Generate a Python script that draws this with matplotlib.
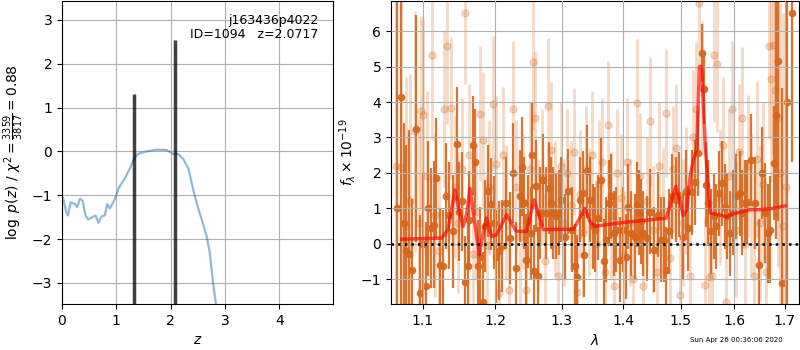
import matplotlib
matplotlib.use("Agg")
import matplotlib.pyplot as plt
from matplotlib.ticker import NullLocator, FixedLocator, FixedFormatter

# ---------------- left panel: log p(z) ----------------
z_grid = [0.0, 0.02, 0.08, 0.11, 0.16, 0.24, 0.28, 0.33, 0.38, 0.43, 0.48, 0.56,
          0.62, 0.67, 0.73, 0.79, 0.83, 0.88, 0.94, 1.00, 1.05, 1.16, 1.26, 1.31,
          1.39, 1.44, 1.56, 1.75, 1.93, 2.05, 2.14, 2.23, 2.33, 2.42, 2.51, 2.57,
          2.66, 2.72, 2.78, 2.83]
logpz = [-1.05, -1.06, -1.39, -1.46, -1.16, -1.20, -1.27, -1.08, -1.12, -1.46, -1.55, -1.50,
         -1.46, -1.63, -1.48, -1.46, -1.20, -1.30, -1.17, -1.00, -0.82, -0.61, -0.36, -0.21,
         -0.06, -0.04, 0.00, 0.04, 0.03, -0.06, -0.06, -0.17, -0.40, -0.90, -1.31, -1.54,
         -1.92, -2.30, -2.98, -3.45]
z_peaks = [1.33, 2.0717]
peak_heights = [1.30, 2.53]

# ---------------- right panel: spectrum ----------------
lam_dark = [1.0670, 1.0717, 1.0752, 1.0780, 1.0824, 1.0860, 1.0910, 1.0964, 1.1000, 1.1043,
            1.1075, 1.1109, 1.1154, 1.1176, 1.1230, 1.1275, 1.1312, 1.1360, 1.1403, 1.1458,
            1.1494, 1.1535, 1.1574, 1.1610, 1.1633, 1.1680, 1.1717, 1.1759, 1.1787, 1.1821,
            1.1855, 1.1892, 1.1940, 1.1985, 1.2021, 1.2059, 1.2108, 1.2166, 1.2215, 1.2255,
            1.2304, 1.2363, 1.2398, 1.2428, 1.2462, 1.2487, 1.2523, 1.2548, 1.2578, 1.2613,
            1.2638, 1.2663, 1.2714, 1.2765, 1.2805, 1.2842, 1.2867, 1.2919, 1.2960, 1.2997,
            1.3049, 1.3101, 1.3155, 1.3207, 1.3244, 1.3287, 1.3330, 1.3356, 1.3410, 1.3447,
            1.3501, 1.3528, 1.3582, 1.3637, 1.3675, 1.3708, 1.3763, 1.3802, 1.3840, 1.3885,
            1.3941, 1.3997, 1.4042, 1.4081, 1.4138, 1.4194, 1.4230, 1.4268, 1.4309, 1.4337,
            1.4406, 1.4464, 1.4522, 1.4597, 1.4657, 1.4697, 1.4745, 1.4792, 1.4852, 1.4912,
            1.4972, 1.5045, 1.5094, 1.5136, 1.5198, 1.5250, 1.5317, 1.5396, 1.5420, 1.5460,
            1.5500, 1.5546, 1.5607, 1.5658, 1.5707, 1.5753, 1.5816, 1.5860, 1.5910, 1.5974,
            1.6039, 1.6103, 1.6155, 1.6199, 1.6244, 1.6330, 1.6395, 1.6481, 1.6547, 1.6593,
            1.6659, 1.6693, 1.6774, 1.6815, 1.6869, 1.6931, 1.7034, 1.7138]
flux_dark = [1.00, 4.13, 0.60, -0.20, -0.30, -0.75, 3.25, -1.40, 0.00, -1.18,
             1.00, 0.44, 0.54, 1.85, -0.60, -0.64, 1.34, 0.80, 0.35, 2.82,
             0.91, 1.20, -1.08, -0.64, 0.66, 2.78, 2.30, -0.64, -0.36, -1.63,
             0.50, 1.50, 1.12, 0.60, -0.36, -0.20, -0.07, 1.15, 0.16, 2.00,
             -0.69, 1.34, 2.18, 1.15, -0.45, 0.63, 0.30, 2.51, -0.78, 1.62,
             -0.92, 0.87, 1.81, 0.87, 1.57, 1.15, 0.87, 0.77, 0.87, 1.24,
             0.20, 1.48, 0.40, -0.64, -0.94, 1.24, 1.43, -0.31, 2.04, 1.24,
             0.49, 0.40, 0.73, 1.81, -0.50, 0.11, 1.15, 1.34, 0.30, 0.40,
             -0.45, 0.40, -0.36, 1.05, 0.30, 0.20, 1.10, 0.87, 0.63, 0.30,
             0.16, 0.91, -0.17, 0.82, 0.11, 0.11, -0.73, 0.35, 1.34, 1.24,
             1.38, 0.20, 1.45, 0.44, 1.45, 1.73, 2.56, 5.39, 4.37, 1.67,
             1.15, 0.35, 0.77, 0.49, 1.43, 1.71, 1.05, 0.77, 0.30, 0.87,
             1.34, 1.43, 0.87, 1.15, 1.17, 2.37, 1.15, -0.59, 2.00, 0.87,
             0.30, 0.40, 2.28, 3.64, 5.15, -1.11, 4.00, 6.50]
err_dark = [8.0, 7.0, 2.8, 3.0, 3.5, 2.0, 3.2, 2.2, 2.0, 1.8,
            1.9, 1.7, 1.8, 1.7, 1.6, 1.6, 1.5, 1.5, 1.6, 1.6,
            1.4, 1.4, 1.3, 1.5, 1.4, 1.4, 1.5, 1.3, 1.4, 1.4,
            1.3, 1.3, 1.3, 1.3, 1.3, 1.4, 1.3, 1.3, 1.3, 1.4,
            1.3, 1.3, 1.4, 1.3, 1.3, 1.3, 1.3, 1.5, 1.3, 1.3,
            1.4, 1.3, 1.3, 1.3, 1.3, 1.3, 1.3, 1.2, 1.2, 1.2,
            1.2, 1.2, 1.2, 1.2, 1.2, 1.2, 1.2, 1.2, 1.3, 1.2,
            1.2, 1.2, 1.2, 1.2, 1.2, 1.2, 1.2, 1.2, 1.2, 1.2,
            1.2, 1.2, 1.2, 1.2, 1.2, 1.2, 1.2, 1.2, 1.2, 1.2,
            1.2, 1.2, 1.2, 1.2, 1.2, 1.2, 1.2, 1.2, 1.2, 1.2,
            1.2, 1.2, 1.2, 1.2, 1.2, 1.2, 1.2, 0.8, 1.0, 1.2,
            1.2, 1.2, 1.2, 1.2, 1.2, 1.2, 1.2, 1.2, 1.2, 1.2,
            1.2, 1.2, 1.2, 1.2, 1.2, 1.3, 1.3, 1.3, 1.3, 1.4,
            1.4, 1.5, 1.6, 3.5, 4.5, 5.5, 7.0, 4.2]

lam_light = [1.066, 1.072, 1.078, 1.084, 1.090, 1.095, 1.098, 1.101, 1.106, 1.112,
             1.117, 1.122, 1.128, 1.133, 1.138, 1.143, 1.148, 1.153, 1.158, 1.163,
             1.168, 1.173, 1.178, 1.183, 1.188, 1.192, 1.197, 1.201, 1.206, 1.211,
             1.216, 1.221, 1.226, 1.231, 1.236, 1.241, 1.246, 1.251, 1.256, 1.259,
             1.264, 1.269, 1.274, 1.279, 1.284, 1.289, 1.294, 1.299, 1.304, 1.309,
             1.314, 1.319, 1.324, 1.329, 1.334, 1.339, 1.344, 1.349, 1.354, 1.359,
             1.364, 1.369, 1.374, 1.380, 1.385, 1.390, 1.396, 1.401, 1.406, 1.412,
             1.417, 1.423, 1.428, 1.434, 1.440, 1.445, 1.451, 1.457, 1.462, 1.468,
             1.474, 1.480, 1.486, 1.492, 1.498, 1.504, 1.510, 1.516, 1.522, 1.528,
             1.533, 1.539, 1.545, 1.551, 1.557, 1.562, 1.566, 1.572, 1.578, 1.584,
             1.590, 1.596, 1.602, 1.608, 1.614, 1.620, 1.626, 1.632, 1.638, 1.644,
             1.650, 1.656, 1.662, 1.668, 1.672, 1.676, 1.680, 1.685, 1.690, 1.696,
             1.702]
flux_light = [2.20, 2.18, 0.50, 1.20, 3.17, 0.60, 3.74, 3.62, 1.90, 5.34,
              0.80, -0.20, 3.80, 5.58, 3.83, 1.60, 0.60, 2.10, 6.50, 2.50,
              -0.30, 0.90, 3.67, 2.94, -0.03, 1.60, 3.95, 2.26, -1.39, 2.51,
              0.90, -1.30, 3.81, 1.60, 0.20, 1.20, -1.30, 2.10, 5.12, 3.55,
              0.50, 1.90, -0.50, 3.90, 2.66, 1.00, -0.90, 2.20, 0.60, 2.00,
              1.10, 2.60, -1.37, 1.40, 0.30, 2.10, 0.90, 2.50, 0.00, 1.70,
              2.30, -0.80, 3.36, 0.80, -1.20, 2.00, 1.30, -0.30, 2.30, 0.60,
              -1.00, 3.97, 1.90, -1.20, 1.20, 3.46, 0.40, -0.80, 2.20, 0.90,
              3.69, -0.40, 2.10, 2.70, -1.44, 0.60, 1.50, -0.90, 3.00, 3.80,
              6.80, 4.40, -1.16, -0.95, -0.90, 5.34, 5.06, 1.30, 2.80, -1.63,
              1.90, 3.81, 0.40, 2.60, 3.55, 0.00, 2.20, 1.10, -0.90, 2.40,
              0.60, 1.70, -0.80, 5.58, 4.65, 5.62, 4.35, 3.55, 2.00, 0.50,
              1.60]
err_light = [6.0, 5.0, 4.2, 3.6, 3.4, 3.0, 2.7, 2.7, 2.4, 2.4,
             2.3, 2.2, 2.2, 2.2, 2.0, 2.0, 2.0, 2.0, 2.0, 2.0,
             1.9, 1.9, 1.9, 1.9, 1.9, 1.9, 1.9, 1.9, 1.9, 1.9,
             1.9, 1.9, 1.9, 1.9, 1.9, 1.9, 1.9, 1.9, 1.9, 1.9,
             1.9, 1.9, 1.9, 1.9, 1.9, 1.9, 1.8, 1.8, 1.8, 1.8,
             1.8, 1.8, 1.8, 1.8, 1.8, 1.8, 1.8, 1.8, 1.8, 1.8,
             1.8, 1.8, 1.8, 1.8, 1.8, 1.8, 1.8, 1.8, 1.8, 1.8,
             1.8, 1.8, 1.8, 1.8, 1.8, 1.8, 1.8, 1.8, 1.8, 1.8,
             1.8, 1.8, 1.8, 1.8, 1.8, 1.8, 1.8, 1.8, 1.9, 1.9,
             1.9, 1.9, 1.9, 1.9, 1.9, 1.9, 1.9, 1.9, 1.9, 1.9,
             1.9, 1.9, 1.9, 1.9, 2.0, 2.0, 2.0, 2.0, 2.0, 2.2,
             2.2, 2.3, 2.4, 2.6, 2.9, 3.1, 3.6, 4.2, 4.8, 6.0,
             6.6]

lam_model = [1.0726, 1.1254, 1.134, 1.1436, 1.148, 1.155, 1.160, 1.1644, 1.169, 1.1776,
             1.183, 1.1879, 1.195, 1.202, 1.2168, 1.224, 1.231, 1.2465, 1.2575, 1.264,
             1.2717, 1.3183, 1.327, 1.3369, 1.345, 1.353, 1.372, 1.400, 1.474, 1.491,
             1.498, 1.5047, 1.511, 1.517, 1.523, 1.529, 1.534, 1.538, 1.545, 1.554,
             1.578, 1.585, 1.598, 1.610, 1.630, 1.649, 1.677, 1.700]
flux_model = [0.13, 0.16, 0.40, 1.52, 1.05, 0.49, 0.87, 1.57, 0.87, -0.31,
              0.30, 0.73, 0.21, 0.25, 0.82, 0.58, 0.35, 0.35, 1.24, 0.87,
              0.40, 0.41, 0.68, 1.00, 0.63, 0.49, 0.54, 0.60, 0.72, 1.62,
              1.24, 0.79, 0.96, 1.90, 2.37, 2.66, 5.00, 5.00, 2.75, 0.87,
              0.79, 0.75, 0.85, 0.89, 0.96, 0.96, 1.00, 1.07]

xticks = [1.1, 1.2, 1.3, 1.4, 1.5, 1.6, 1.7]
xticklabels = ["1.1", "1.2", "1.3", "1.4", "1.5", "1.6", "1.7"]

title_lines = "j163436p4022\nID=1094   z=2.0717"
timestamp = "Sun Apr 26 00:36:06 2020"

dark_color = "#d8661a"

fig = plt.figure(figsize=(8, 3.5), dpi=100)
ax1 = fig.add_axes([0.0775, 0.1314, 0.3388, 0.8657])
ax2 = fig.add_axes([0.48875, 0.1314, 0.51, 0.8657])

# left
ax1.plot(z_grid, logpz, color="#1f77b4", alpha=0.5, lw=1.6)
ax1.vlines(z_peaks, -3.48, peak_heights, color="k", alpha=0.75, lw=2.5)
ax1.set_xlim(0, 4.99)
ax1.set_ylim(-3.48, 3.43)
ax1.set_xticks([0, 1, 2, 3, 4])
ax1.set_yticks([-3, -2, -1, 0, 1, 2, 3])
ax1.grid(True)
ax1.set_xlabel(r"$z$")
ax1.set_ylabel(r"$\log\ p(z)$ / $\chi^2=\frac{3359}{3817}=0.88$")
ax1.text(0.945, 0.958, title_lines, transform=ax1.transAxes, ha="right", va="top",
         fontsize=9, linespacing=1.15)

# right
ax2.errorbar(lam_light, flux_light, yerr=err_light, marker="o", linestyle="none",
             color=dark_color, alpha=0.25, ms=5, elinewidth=2.0, capsize=0)
ax2.errorbar(lam_dark, flux_dark, yerr=err_dark, marker="o", linestyle="none",
             color=dark_color, alpha=0.9, ms=4.5, elinewidth=1.6, capsize=0)
ax2.plot(lam_model, flux_model, color="red", alpha=0.65, lw=2.5, zorder=10)
ax2.axhline(0, color="k", ls=":", lw=1.8, zorder=11)
ax2.set_xscale("log")
ax2.set_xlim(1.059, 1.729)
ax2.set_ylim(-1.7, 6.85)
ax2.xaxis.set_major_locator(FixedLocator(xticks))
ax2.xaxis.set_major_formatter(FixedFormatter(xticklabels))
ax2.xaxis.set_minor_locator(NullLocator())
ax2.set_yticks([-1, 0, 1, 2, 3, 4, 5, 6])
ax2.set_axisbelow(False)
ax2.grid(True, zorder=5)
ax2.set_xlabel(r"$\lambda$")
ax2.set_ylabel(r"$f_\lambda\times10^{-19}$", labelpad=2)
fig.text(0.921, 0.029, timestamp, ha="center", va="center", fontsize=5)

fig.savefig("out.png", dpi=100)
